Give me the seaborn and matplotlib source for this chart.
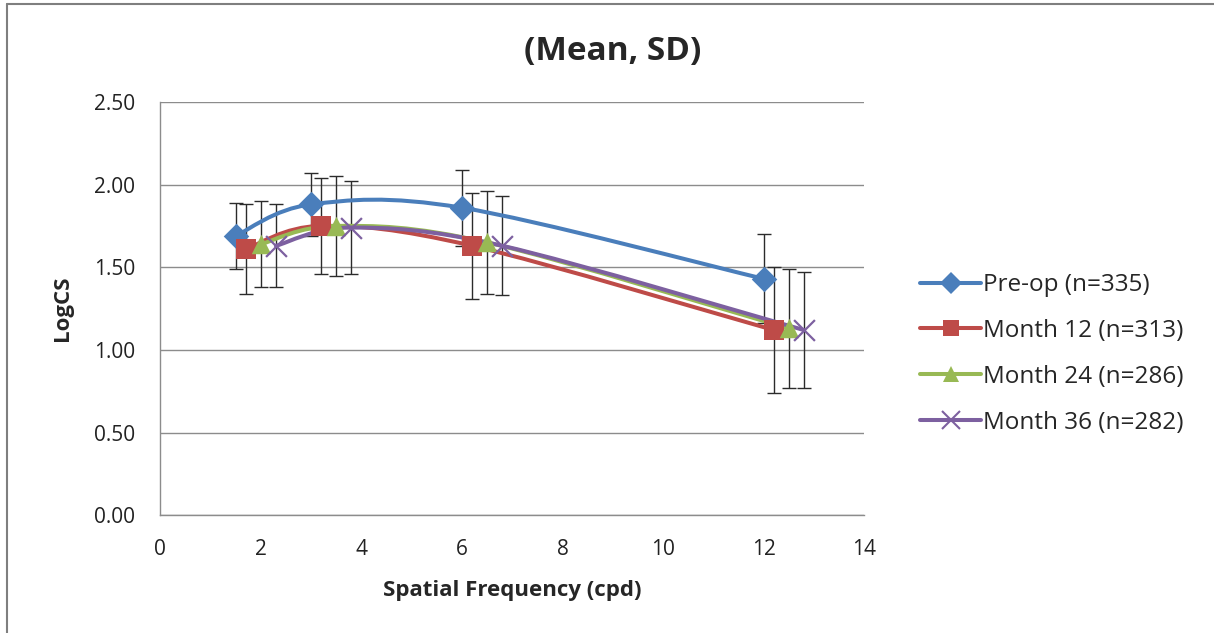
import numpy as np
import pandas as pd
import seaborn as sns
import matplotlib.pyplot as plt
from matplotlib.path import Path
from matplotlib.patches import PathPatch
from matplotlib.lines import Line2D

# data
groups = ["Pre-op (n=335)", "Month 12 (n=313)", "Month 24 (n=286)", "Month 36 (n=282)"]
x_preop = [1.5, 3.0, 6.0, 12.0]
x_m12 = [1.7, 3.2, 6.2, 12.2]
x_m24 = [2.0, 3.5, 6.5, 12.5]
x_m36 = [2.3, 3.8, 6.8, 12.8]
y_preop = [1.69, 1.88, 1.86, 1.43]
y_m12 = [1.61, 1.75, 1.63, 1.12]
y_m24 = [1.64, 1.75, 1.65, 1.13]
y_m36 = [1.63, 1.74, 1.63, 1.12]
sd_preop = [0.20, 0.19, 0.23, 0.27]
sd_m12 = [0.27, 0.29, 0.32, 0.38]
sd_m24 = [0.26, 0.30, 0.31, 0.36]
sd_m36 = [0.25, 0.28, 0.30, 0.35]

colors = ["#4A7EBB", "#BE4B48", "#98B954", "#7D60A0"]
markers = ["D", "s", "^", "x"]
msizes = [13, 14, 14, 15]

sns.set_style("white")
plt.rcParams["font.family"] = ["Open Sans", "DejaVu Sans"]

df = pd.DataFrame({
    "group": np.repeat(groups, 4),
    "x": x_preop + x_m12 + x_m24 + x_m36,
    "y": y_preop + y_m12 + y_m24 + y_m36,
    "sd": sd_preop + sd_m12 + sd_m24 + sd_m36,
})


def smooth_path(xs, ys):
    # Excel-style smoothed line as cubic bezier segments
    pts = np.column_stack([xs, ys])
    p = np.vstack([pts[0], pts, pts[-1]])
    verts = [pts[0]]
    codes = [Path.MOVETO]
    for i in range(1, len(p) - 2):
        c1 = p[i] + (p[i + 1] - p[i - 1]) / 6
        c2 = p[i + 1] - (p[i + 2] - p[i]) / 6
        verts += [c1, c2, p[i + 1]]
        codes += [Path.CURVE4] * 3
    return Path(verts, codes)


fig = plt.figure(figsize=(12.14, 6.33), dpi=100)
ax = fig.add_axes([0.132, 0.186, 0.580, 0.653])

for i, g in enumerate(groups):
    d = df[df["group"] == g]
    ax.errorbar(d["x"], d["y"], yerr=d["sd"], fmt="none", ecolor="#2b2b2b",
                elinewidth=1.0, capsize=5, capthick=1.0, zorder=2)

for i, g in enumerate(groups):
    d = df[df["group"] == g]
    ax.add_patch(PathPatch(smooth_path(d["x"].values, d["y"].values), fill=False,
                           edgecolor=colors[i], lw=2.9, zorder=3, capstyle="round"))
    if markers[i] == "x":
        sns.scatterplot(x=d["x"], y=d["y"], ax=ax, marker="x", color=colors[i],
                        s=msizes[i] ** 2, linewidth=1.6, zorder=4, legend=False)
    else:
        sns.scatterplot(x=d["x"], y=d["y"], ax=ax, marker=markers[i], color=colors[i],
                        s=msizes[i] ** 2, edgecolor=colors[i], linewidth=0, zorder=4,
                        legend=False)

ax.set_xlim(0, 14)
ax.set_ylim(0, 2.5)
ax.set_xticks(np.arange(0, 15, 2))
ax.set_yticks(np.arange(0, 2.51, 0.5))
ax.set_yticklabels([f"{v:.2f}" for v in np.arange(0, 2.51, 0.5)])
ax.yaxis.grid(True, color="#8c8c8c", lw=1.0)
ax.set_axisbelow(True)
for s in ["top", "right"]:
    ax.spines[s].set_visible(False)
for s in ["left", "bottom"]:
    ax.spines[s].set_color("#8c8c8c")
    ax.spines[s].set_linewidth(1.0)
ax.tick_params(axis="both", labelsize=15, colors="#222222", length=0)
ax.tick_params(axis="y", pad=18)
ax.tick_params(axis="x", pad=17)

ax.set_xlabel("Spatial Frequency (cpd)", fontsize=16, fontweight="bold", va="center")
ax.set_ylabel("LogCS", fontsize=16, fontweight="bold", va="center")
ax.xaxis.set_label_coords(0.5, -0.182)
ax.yaxis.set_label_coords(-0.139, 0.5)
fig.text(0.505, 0.918, "(Mean, SD)", ha="center", va="center", fontsize=24,
         fontweight="bold")

handles = [Line2D([0], [0], color=colors[i], lw=2.9, marker=markers[i],
                  markersize=msizes[i] * 0.85, markeredgewidth=1.5 if markers[i] == "x" else 0,
                  markeredgecolor=colors[i]) for i in range(4)]
fig.legend(handles, groups, loc="center left", bbox_to_anchor=(0.758, 0.441),
           frameon=False, fontsize=17.5, handlelength=2.5, handletextpad=0.1,
           labelspacing=0.9, borderaxespad=0, borderpad=0)

# chart frame (left and top edges visible)
fig.add_artist(Line2D([0.006, 0.006], [0, 0.994], color="#7f7f7f", lw=1.5))
fig.add_artist(Line2D([0.006, 1.0], [0.994, 0.994], color="#7f7f7f", lw=1.5))

fig.savefig("out.png", dpi=100)
